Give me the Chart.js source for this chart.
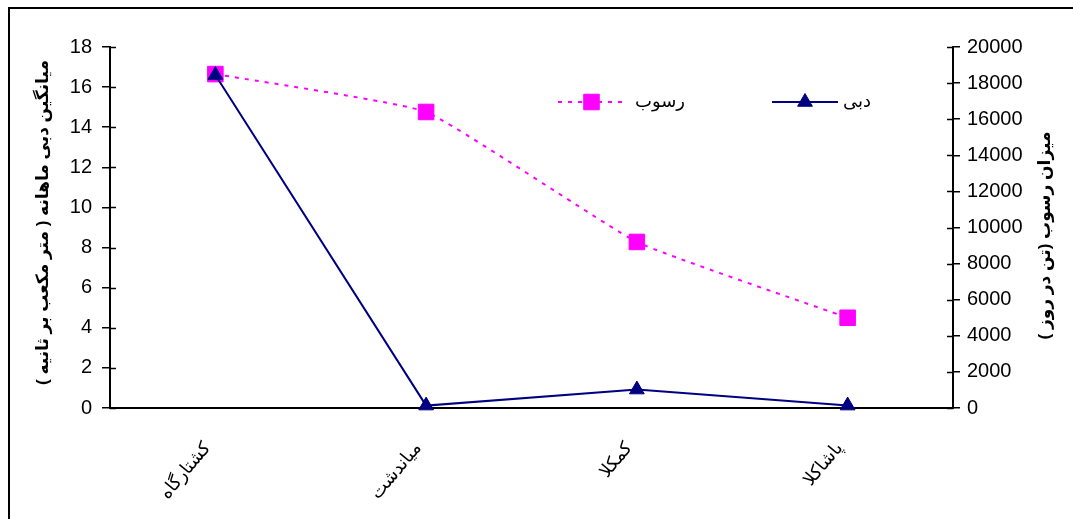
<!DOCTYPE html>
<html>
<head>
<meta charset="utf-8">
<script src="https://cdn.jsdelivr.net/npm/chart.js@4/dist/chart.umd.min.js"></script>
<style>
  html, body { margin: 0; padding: 0; background: #fff; overflow: hidden; }
  #wrap { width: 1073px; height: 519px; position: relative; }
</style>
</head>
<body>
<div id="wrap"><canvas id="c" width="1073" height="519"></canvas></div>
<script>
// Stations along the river
const stations = ['کشتارگاه', 'میاندشت', 'کمکلا', 'پاشاکلا'];

// Series names
const dischargeLabel = 'دبی';
const sedimentLabel = 'رسوب';

// Mean monthly discharge (m3/s) and sediment load (ton/day)
const discharge = [16.6, 0.12, 0.92, 0.12];
const sediment = [18500, 16400, 9200, 5000];

// Axis ranges and steps
const dischargeTicks = { min: 0, max: 18, step: 2 };
const sedimentTicks = { min: 0, max: 20000, step: 2000 };

// Axis titles
const leftTitle = 'میانگین دبی ماهانه ( متر مکعب بر ثانیه )';
const rightTitle = 'میزان رسوب (تن در روز )';

const FONT = "'Liberation Sans', 'DejaVu Sans', Arial, sans-serif";
const NAVY = '#000080';
const MAGENTA = '#FF00FF';

// Frame around the chart (only its top and left edges fall inside the canvas)
const framePlugin = {
  id: 'frame',
  beforeDraw(chart) {
    const ctx = chart.ctx;
    ctx.save();
    ctx.fillStyle = '#fff';
    ctx.fillRect(0, 0, chart.width, chart.height);
    ctx.fillStyle = '#000';
    ctx.fillRect(8, 7, chart.width, 2);
    ctx.fillRect(8, 7, 2, chart.height);
    ctx.restore();
  }
};

// Short inward tick marks so the ticks cross each value axis
const innerTicksPlugin = {
  id: 'innerTicks',
  afterDraw(chart) {
    const ctx = chart.ctx;
    ctx.save();
    ctx.strokeStyle = '#000';
    ctx.lineWidth = 1.5;
    ['y', 'y1'].forEach(id => {
      const s = chart.scales[id];
      const x0 = id === 'y' ? s.right : s.left;
      const dir = id === 'y' ? 1 : -1;
      s.ticks.forEach(t => {
        const py = Math.round(s.getPixelForValue(t.value)) + 0.5;
        ctx.beginPath();
        ctx.moveTo(x0, py);
        ctx.lineTo(x0 + dir * 6, py);
        ctx.stroke();
      });
    });
    ctx.restore();
  }
};

// Rotated axis titles, both reading from bottom to top
const titlesPlugin = {
  id: 'axisTitles',
  afterDraw(chart) {
    const ctx = chart.ctx;
    const area = chart.chartArea;
    ctx.save();
    ctx.fillStyle = '#000';
    ctx.font = 'bold 17px ' + FONT;
    ctx.textAlign = 'center';
    ctx.textBaseline = 'middle';
    const midY = (area.top + area.bottom) / 2;
    ctx.save();
    ctx.translate(43, midY - 5);
    ctx.rotate(-Math.PI / 2);
    ctx.fillText(leftTitle, 0, 0);
    ctx.restore();
    ctx.save();
    ctx.translate(1045, midY + 8);
    ctx.rotate(-Math.PI / 2);
    ctx.fillText(rightTitle, 0, 0);
    ctx.restore();
    ctx.restore();
  }
};

// Legend: line sample with the marker in its middle, name to the right
const legendPlugin = {
  id: 'sampleLegend',
  afterDraw(chart) {
    const ctx = chart.ctx;
    const items = [
      { ds: chart.data.datasets[1], x0: 558, x1: 625, tx: 635 },
      { ds: chart.data.datasets[0], x0: 772, x1: 838, tx: 843 }
    ];
    const y = 102;
    items.forEach(it => {
      const ds = it.ds;
      ctx.save();
      ctx.strokeStyle = ds.borderColor;
      ctx.lineWidth = ds.borderWidth;
      ctx.setLineDash(ds.borderDash || []);
      ctx.beginPath();
      ctx.moveTo(it.x0, y);
      ctx.lineTo(it.x1, y);
      ctx.stroke();
      ctx.setLineDash([]);
      ctx.fillStyle = ds.pointBackgroundColor;
      ctx.strokeStyle = ds.pointBorderColor;
      ctx.lineWidth = 1;
      Chart.helpers.drawPoint(ctx, {
        pointStyle: ds.pointStyle, radius: ds.pointRadius, rotation: 0, borderWidth: 1
      }, (it.x0 + it.x1) / 2, y);
      ctx.fillStyle = '#000';
      ctx.font = '18px ' + FONT;
      ctx.textAlign = 'left';
      ctx.textBaseline = 'middle';
      ctx.fillText(ds.label, it.tx, y);
      ctx.restore();
    });
  }
};

new Chart(document.getElementById('c'), {
  type: 'line',
  data: {
    labels: stations,
    datasets: [
      {
        label: dischargeLabel,
        data: discharge,
        yAxisID: 'y',
        borderColor: NAVY,
        backgroundColor: NAVY,
        pointBackgroundColor: NAVY,
        pointBorderColor: NAVY,
        borderWidth: 2,
        pointStyle: 'triangle',
        pointRadius: 8.5,
        pointBorderWidth: 1,
        tension: 0,
        clip: false
      },
      {
        label: sedimentLabel,
        data: sediment,
        yAxisID: 'y1',
        borderColor: MAGENTA,
        backgroundColor: MAGENTA,
        pointBackgroundColor: MAGENTA,
        pointBorderColor: MAGENTA,
        borderWidth: 2,
        borderDash: [4, 6],
        pointStyle: 'rect',
        pointRadius: 11,
        pointBorderWidth: 1,
        tension: 0.12,
        clip: false
      }
    ]
  },
  options: {
    responsive: false,
    animation: false,
    devicePixelRatio: 1,
    layout: { padding: { top: 47, left: 0, right: 0, bottom: 0 } },
    plugins: {
      legend: { display: false },
      tooltip: { enabled: false },
      title: { display: false }
    },
    scales: {
      x: {
        offset: true,
        grid: { display: false },
        border: { display: true, color: '#000', width: 2 },
        ticks: {
          color: '#000',
          font: { family: FONT, size: 18 },
          autoSkip: false,
          minRotation: 50,
          maxRotation: 50,
          padding: 22,
          labelOffset: -8
        },
        afterFit(s) { s.height = 111; }
      },
      y: {
        position: 'left',
        min: dischargeTicks.min,
        max: dischargeTicks.max,
        ticks: {
          stepSize: dischargeTicks.step,
          color: '#000',
          font: { family: FONT, size: 20 },
          padding: 10
        },
        grid: { drawOnChartArea: false, drawTicks: true, tickLength: 8, color: '#000', lineWidth: 1.5 },
        border: { display: true, color: '#000', width: 2 },
        afterFit(s) { s.width = 110; }
      },
      y1: {
        position: 'right',
        min: sedimentTicks.min,
        max: sedimentTicks.max,
        ticks: {
          stepSize: sedimentTicks.step,
          color: '#000',
          font: { family: FONT, size: 20 },
          padding: 7,
          callback: v => String(v)
        },
        grid: { drawOnChartArea: false, drawTicks: true, tickLength: 7, color: '#000', lineWidth: 1.5 },
        border: { display: true, color: '#000', width: 2 },
        afterFit(s) { s.width = 120; }
      }
    }
  },
  plugins: [framePlugin, innerTicksPlugin, titlesPlugin, legendPlugin]
});
</script>
</body>
</html>
